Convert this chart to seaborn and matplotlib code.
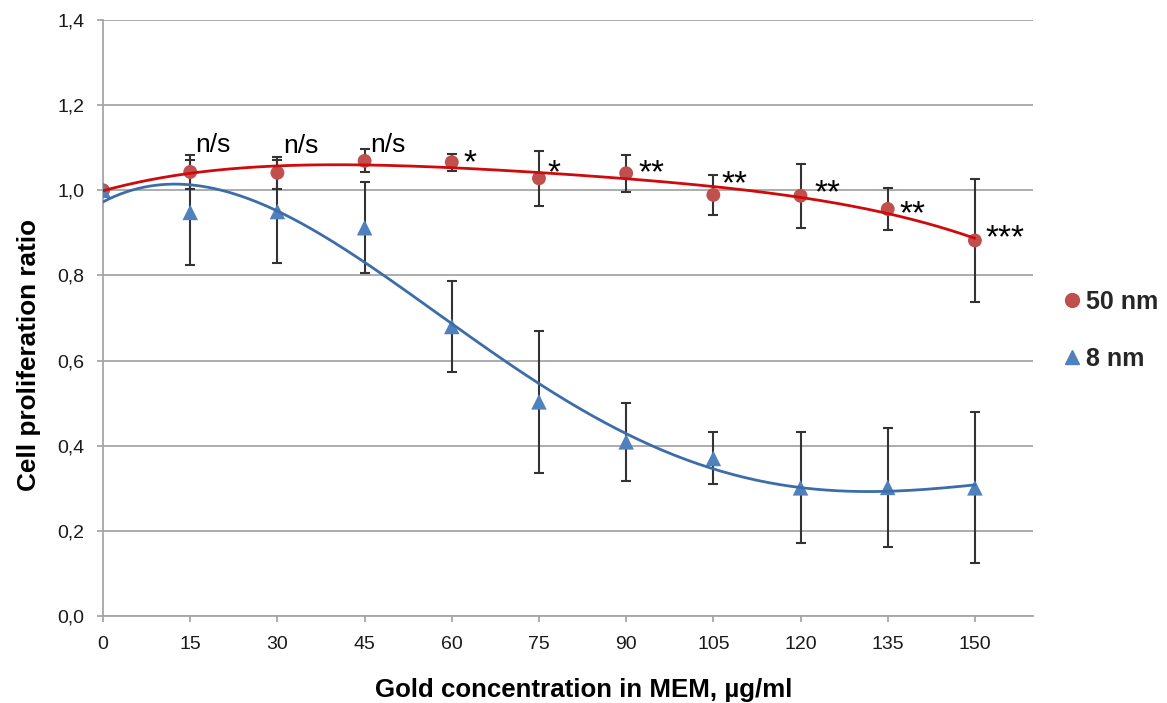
import numpy as np
import pandas as pd
import matplotlib
matplotlib.use("Agg")
import matplotlib.pyplot as plt
import seaborn as sns
from matplotlib.lines import Line2D

# =======================================
# Data
# =======================================
CONC = [0, 15, 30, 45, 60, 75, 90, 105, 120, 135, 150]

RATIO_50NM = [1.000, 1.043, 1.041, 1.069, 1.066, 1.028, 1.040, 0.989, 0.987, 0.956, 0.882]
ERR_50NM = [0.0, 0.040, 0.038, 0.027, 0.020, 0.064, 0.043, 0.047, 0.075, 0.050, 0.144]

RATIO_8NM = [1.000, 0.948, 0.950, 0.912, 0.680, 0.503, 0.409, 0.370, 0.301, 0.302, 0.301]
ERR_8NM = [0.0, 0.123, 0.120, 0.107, 0.108, 0.167, 0.091, 0.061, 0.130, 0.139, 0.177]

# significance marks for 50 nm vs 8 nm: (text, x, y)
SIG_LABELS = ["", "n/s", "n/s", "n/s", "*", "*", "**", "**", "**", "**", "***"]
SIG_X = [0, 18.9, 34.1, 49.0, 63.1, 77.5, 94.3, 108.7, 124.6, 139.3, 155.1]
SIG_Y = [0, 1.106, 1.104, 1.106, 1.087, 1.064, 1.064, 1.038, 1.016, 0.967, 0.911]

X_TICKS = [0, 15, 30, 45, 60, 75, 90, 105, 120, 135, 150]
Y_TICKS = [0.0, 0.2, 0.4, 0.6, 0.8, 1.0, 1.2, 1.4]
Y_TICK_LABELS = ["0,0", "0,2", "0,4", "0,6", "0,8", "1,0", "1,2", "1,4"]

RED_MARK = "#C0504D"
BLUE_MARK = "#4F81BD"
RED_LINE = "#D00A0A"
BLUE_LINE = "#3C6DAA"
GRID = "#A6A6A6"
BAR = "#333333"

# =======================================
# Style
# =======================================
sns.set_theme(style="whitegrid")
plt.rcParams["font.family"] = ["Liberation Sans", "DejaVu Sans"]

fig = plt.figure(figsize=(11.67, 7.03), dpi=100)
ax = fig.add_axes([0.0883, 0.1238, 0.7969, 0.8478])

# error bars
for ratio, err in [(RATIO_50NM, ERR_50NM), (RATIO_8NM, ERR_8NM)]:
    ax.errorbar(CONC, ratio, yerr=err, fmt="none", ecolor=BAR,
                elinewidth=1.5, capsize=3.3, capthick=1.5, zorder=2)

# markers
sns.scatterplot(x=CONC, y=RATIO_50NM, color=RED_MARK, marker="o", s=100,
                edgecolor="none", ax=ax, zorder=3)
sns.scatterplot(x=CONC, y=RATIO_8NM, color=BLUE_MARK, marker="^", s=125,
                edgecolor="none", ax=ax, zorder=3)

# polynomial trend lines (Excel-style)
xs = np.linspace(0, 150, 300)
fit_red = np.polyval(np.polyfit(CONC, RATIO_50NM, 4), xs)
fit_blue = np.polyval(np.polyfit(CONC, RATIO_8NM, 4), xs)
sns.lineplot(x=xs, y=fit_red, color=RED_LINE, lw=2, ax=ax, zorder=4)
sns.lineplot(x=xs, y=fit_blue, color=BLUE_LINE, lw=2, ax=ax, zorder=4)

# significance labels
for lab, sx, sy in zip(SIG_LABELS, SIG_X, SIG_Y):
    if not lab:
        continue
    if lab == "n/s":
        ax.text(sx, sy, lab, ha="center", va="center", fontsize=19, color="black", zorder=5)
    else:
        fs = 24
        ax.annotate(lab, (sx, sy), xytext=(0, -0.31 * fs), textcoords="offset points",
                    ha="center", va="center", fontsize=fs, color="black", zorder=5)

# axes
ax.set_xlim(0, 160)
ax.set_ylim(0, 1.4)
ax.set_xticks(X_TICKS)
ax.set_xticklabels([str(t) for t in X_TICKS], fontsize=14)
ax.set_yticks(Y_TICKS)
ax.set_yticklabels(Y_TICK_LABELS, fontsize=14)
ax.grid(axis="x", visible=False)
ax.grid(axis="y", color=GRID, lw=1.3)
ax.set_axisbelow(True)
for side in ["top", "right"]:
    ax.spines[side].set_visible(False)
for side in ["left", "bottom"]:
    ax.spines[side].set_color(GRID)
    ax.spines[side].set_linewidth(1.3)
ax.tick_params(axis="both", length=4.5, width=1.3, color=GRID, direction="out",
               left=True, bottom=True, labelcolor="#1a1a1a")
ax.tick_params(axis="x", pad=10)
ax.tick_params(axis="y", pad=9)

ax.set_xlabel("Gold concentration in MEM, µg/ml", fontsize=18.6, fontweight="bold",
              color="black")
ax.set_ylabel("Cell proliferation ratio", fontsize=18.8, fontweight="bold", color="black")
ax.xaxis.set_label_coords(0.517, -0.124)
ax.xaxis.label.set_va("center")
ax.yaxis.set_label_coords(-0.0800, 0.438)
ax.yaxis.label.set_va("center")

# legend
handles = [
    Line2D([], [], ls="none", marker="o", color=RED_MARK, markersize=10),
    Line2D([], [], ls="none", marker="^", color=BLUE_MARK, markersize=10),
]
fig.legend(handles, ["50 nm", "8 nm"], loc="center left", bbox_to_anchor=(0.908, 0.530),
           frameon=False, prop={"weight": "bold", "size": 18}, handletextpad=0.05,
           labelspacing=1.3, handlelength=1.0, borderaxespad=0, borderpad=0)

fig.savefig("out.png", dpi=100)
